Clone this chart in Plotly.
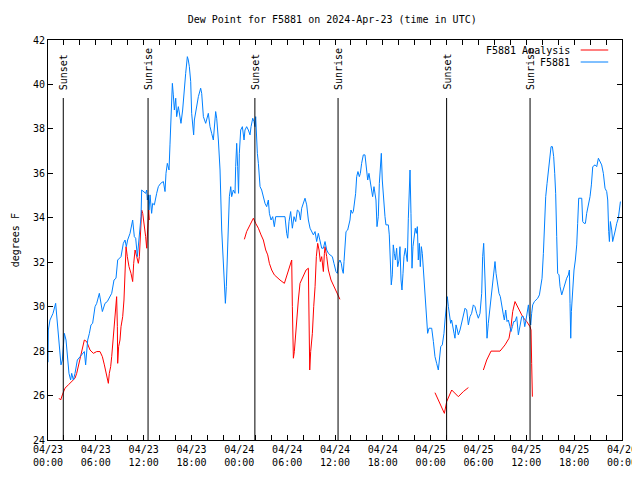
import pandas as pd
import plotly.graph_objects as go

START = "2024-04-23 00:00"
END = "2024-04-26 00:00"

# F5881 observations: hours after START, dew point (deg F)
obs_hours = [
    0.0, 0.04, 0.25, 0.63, 0.96, 1.21, 1.42, 1.63, 1.80, 2.05, 2.26, 2.43, 2.63, 2.84, 2.97, 3.18, 3.39,
    3.68, 4.01, 4.31, 4.56, 4.72, 4.98, 5.19, 5.39, 5.60, 5.90, 6.11, 6.44, 6.82, 7.15, 7.44, 7.99, 8.28,
    8.53, 8.74, 9.16, 9.45, 9.66, 9.83, 9.99, 10.29, 10.5, 10.62, 10.83, 11.0, 11.21, 11.46, 11.67, 11.75,
    12.04, 12.25, 12.38, 12.46, 12.59, 12.67, 12.8, 13.0, 13.13, 13.34, 13.63, 13.84, 14.13, 14.47, 14.68,
    14.80, 14.97, 15.18, 15.3, 15.39, 15.51, 15.6, 15.72, 15.85, 16.02, 16.14, 16.35, 16.56, 16.68, 16.89,
    17.1, 17.27, 17.48, 17.6, 17.73, 17.9, 18.02, 18.15, 18.27, 18.36, 18.65, 18.86, 19.15, 19.28, 19.49,
    19.78, 20.11, 20.32, 20.53, 20.74, 21.03, 21.16, 21.37, 21.58, 21.79, 21.91, 22.08, 22.25, 22.37, 22.50,
    22.62, 22.75, 22.92, 23.04, 23.25, 23.46, 23.54, 23.67, 23.79, 23.9, 24.0, 24.17, 24.38, 24.59, 24.71,
    24.92, 25.13, 25.34, 25.47, 25.68, 25.84, 25.97, 26.05, 26.14, 26.26, 26.39, 26.6, 26.8, 27.01, 27.22,
    27.43, 27.64, 27.77, 27.98, 28.18, 28.39, 28.56, 29.73, 29.94, 30.07, 30.23, 30.44, 30.65, 30.86, 31.07,
    31.28, 31.49, 31.66, 31.82, 32.03, 32.24, 32.45, 32.66, 32.87, 33.08, 33.29, 33.5, 33.7, 33.91, 34.12,
    34.33, 34.54, 34.75, 34.96, 35.17, 35.38, 35.67, 35.87, 36.12, 36.29, 36.42, 36.62, 36.79, 36.92, 37.04,
    37.13, 37.25, 37.38, 37.59, 37.75, 37.88, 38.0, 38.17, 38.3, 38.42, 38.59, 38.72, 38.88, 39.05, 39.18,
    39.34, 39.55, 39.76, 39.97, 40.1, 40.26, 40.39, 40.6, 40.72, 40.89, 41.01, 41.14, 41.27, 41.43, 41.56,
    41.73, 41.81, 41.93, 42.06, 42.27, 42.39, 42.69, 42.81, 42.94, 43.06, 43.19, 43.31, 43.44, 43.57, 43.73,
    43.86, 44.03, 44.15, 44.28, 44.4, 44.53, 44.65, 44.82, 44.95, 45.07, 45.2, 45.32, 45.41, 45.53, 45.66,
    45.78, 45.91, 46.07, 46.2, 46.33, 46.45, 46.58, 46.7, 46.83, 46.95, 47.12, 47.25, 47.37, 47.5, 47.62,
    47.79, 48.13, 48.34, 48.54, 48.75, 48.96, 49.09, 49.26, 49.46, 49.67, 49.8, 49.92, 50.09, 50.22, 50.34,
    50.51, 50.63, 50.8, 50.93, 51.05, 51.18, 51.35, 51.47, 51.68, 51.89, 52.1, 52.31, 52.52, 52.73, 52.93,
    53.14, 53.35, 53.56, 53.77, 53.98, 54.19, 54.4, 54.52, 54.65, 54.82, 54.94, 55.07, 55.23, 55.44, 55.65,
    55.86, 56.07, 56.2, 56.36, 56.57, 56.74, 56.91, 57.12, 57.24, 57.41, 57.58, 57.74, 57.95, 58.08, 58.25,
    58.41, 58.58, 58.79, 59.0, 59.21, 59.42, 59.63, 59.8, 59.96, 60.13, 60.26, 60.38, 60.55, 60.67, 60.8,
    61.01, 61.22, 61.43, 61.64, 61.8, 61.97, 62.14, 62.26, 62.43, 62.6, 62.76, 62.93, 63.1, 63.27, 63.43,
    63.56, 63.68, 63.81, 63.93, 64.1, 64.23, 64.44, 64.56, 64.73, 64.9, 65.06, 65.27, 65.4, 65.48, 65.57,
    65.65, 65.82, 65.98, 66.15, 66.32, 66.44, 66.57, 66.95, 67.07, 67.24, 67.41, 67.57, 67.78, 67.99, 68.16,
    68.33, 68.62, 68.83, 69.04, 69.25, 69.45, 69.66, 69.87, 70.08, 70.21, 70.33, 70.42, 70.54, 70.71, 70.83,
    71.0, 71.17, 71.34, 71.54, 71.67, 71.8,
]
obs_dewpoint = [
    27.5, 28.95, 29.4, 29.7, 30.15, 29.1, 28.05, 27.38, 27.6, 28.8, 28.5, 27.6, 27.0, 26.7, 27.0, 26.7, 27.0,
    27.6, 27.75, 27.9, 27.98, 27.38, 28.5, 28.8, 29.18, 29.25, 30.0, 30.15, 30.6, 29.78, 30.15, 30.23, 30.6, 31.2,
    31.28, 32.1, 32.25, 32.85, 33.0, 32.7, 33.0, 33.3, 33.6, 33.9, 33.15, 33.08, 32.25, 33.15, 34.05, 35.25,
    35.18, 35.1, 35.25, 34.8, 35.03, 34.35, 35.03, 34.2, 34.65, 34.58, 35.1, 35.4, 35.55, 35.63, 35.18,
    36.0, 36.45, 36.15, 37.28, 38.4, 39.53, 40.05, 39.53, 38.85, 39.38, 38.55, 39.0, 38.4, 38.25, 38.85,
    40.05, 40.5, 41.25, 41.1, 40.8, 40.13, 38.7, 37.95, 37.73, 38.4, 39.0, 39.45, 39.83, 39.6, 38.55,
    38.25, 38.7, 38.1, 37.8, 37.5, 38.78, 38.48, 37.5, 36.15, 33.45, 32.55, 31.5, 30.15, 30.9, 32.7,
    34.05, 34.95, 35.4, 34.95, 35.25, 35.1, 36.3, 37.35, 36.3, 35.1, 36.9, 37.95, 38.1, 37.5, 37.95,
    38.1, 37.95, 37.73, 38.1, 38.48, 38.33, 38.1, 38.55, 37.65, 36.9, 36.45, 35.4, 35.25, 34.95, 34.65,
    34.5, 34.8, 34.2, 33.9, 34.05, 33.6, 34.05, 34.05, 33.3, 33.08, 33.83, 34.28, 33.53, 34.05, 33.83,
    34.35, 34.28, 33.9, 34.43, 34.65, 34.88, 34.58, 33.9, 33.53, 33.38, 33.23, 33.38, 32.93, 33.3, 33.0,
    32.63, 32.63, 32.93, 32.55, 32.4, 32.33, 32.25, 31.95, 31.58, 31.5, 31.95, 32.1, 31.95, 31.65, 31.5,
    32.03, 32.85, 33.38, 33.45, 33.68, 33.9, 34.35, 34.2, 34.28, 34.65, 35.1, 35.85, 36.08, 35.85, 36.0,
    36.45, 36.83, 36.83, 36.15, 35.7, 36.0, 35.7, 35.4, 34.95, 35.4, 35.1, 34.8, 33.6, 34.05, 35.55,
    36.45, 36.9, 35.7, 34.95, 34.05, 33.68, 33.68, 33.23, 32.33, 30.98, 31.43, 32.78, 32.4, 32.1, 32.63,
    31.8, 32.1, 32.7, 31.2, 30.75, 31.5, 32.25, 32.63, 32.25, 32.03, 33.98, 35.4, 36.15, 34.2, 31.73,
    32.7, 33.15, 33.53, 33.3, 33.6, 32.1, 32.85, 31.8, 32.7, 32.4, 31.5, 30.6, 30.0, 29.25, 28.8,
    29.03, 29.03, 28.43, 27.75, 27.45, 27.15, 27.6, 28.2, 28.28, 28.8, 29.4, 30.0, 30.45, 30.0, 29.7,
    29.25, 29.4, 28.95, 28.8, 28.58, 29.18, 28.95, 28.73, 28.95, 29.25, 29.55, 29.93, 29.85, 29.18, 29.55,
    29.7, 30.08, 30.0, 29.7, 29.48, 29.7, 30.6, 32.25, 32.85, 31.2, 29.85, 28.58, 29.25, 30.0, 30.6,
    31.2, 32.03, 31.5, 30.98, 30.6, 30.45, 30.0, 29.63, 29.4, 29.85, 29.33, 29.4, 29.1, 28.88, 29.1,
    29.33, 29.33, 29.55, 28.73, 29.25, 29.55, 29.55, 29.1, 29.4, 29.7, 30.08, 29.55, 29.18, 29.7, 30.08,
    30.23, 30.3, 30.38, 30.53, 30.9, 31.28, 32.4, 33.38, 34.95, 35.55, 36.15, 36.83, 37.2, 37.2, 36.75,
    36.0, 35.1, 33.15, 31.5, 31.43, 30.9, 30.53, 30.68, 30.83, 31.05, 31.28, 31.43, 31.65, 30.15, 28.58,
    29.78, 30.9, 31.65, 32.1, 32.78, 33.75, 34.88, 34.88, 33.83, 33.75, 33.75, 34.2, 34.58, 34.95, 35.48,
    36.3, 36.38, 36.3, 36.68, 36.53, 36.38, 36.0, 35.33, 35.18, 34.8, 33.38, 32.93, 33.83, 33.45, 32.93,
    33.15, 33.45, 33.75, 33.98, 34.35, 34.73,
]

# F5881 Analysis: hours after START, dew point (deg F); None marks a gap
ana_hours = [
    1.38, 1.59, 1.8, 2.13, 2.55, 2.97, 3.39, 3.6, 3.81, 4.01, 4.22, 4.56, 4.85, 5.06, 5.27, 5.69, 6.11,
    6.52, 6.82, 7.07, 7.28, 7.44, 7.57, 7.69, 7.86, 7.99, 8.2, 8.41, 8.53, 8.61, 8.7, 8.74, 8.86, 9.03,
    9.16, 9.37, 9.53, 9.66, 9.79, 9.95, 10.16, 10.41, 10.62, 10.75, 10.92, 11.13, 11.33, 11.46, 11.58,
    11.75, 11.88, 12.04, 12.17, 12.25, 12.38, 12.5, 12.63, 12.71,
    12.8,
    24.63, 24.92, 25.34, 25.76, 26.05, 26.39, 26.72, 27.01, 27.31, 27.56, 27.77, 28.06, 28.39, 28.69,
    29.1, 29.65, 29.94, 30.23, 30.57, 30.65, 30.78, 30.9, 31.07, 31.24, 31.4, 31.61, 32.03, 32.37, 32.66,
    32.74, 32.83, 32.95, 33.16, 33.33, 33.5, 33.66, 33.83, 34.0, 34.16, 34.33, 34.54, 34.67, 34.75, 34.96,
    35.17, 35.5, 35.8, 36.0, 36.2, 36.4, 36.62,
    36.7,
    48.54, 49.17, 49.72, 50.01, 50.64, 51.47, 52.1, 52.73,
    52.8,
    54.61, 55.03, 55.57, 56.7, 57.33, 57.83, 58.08, 58.29, 58.58, 59.0, 59.42, 59.75, 60.05, 60.46, 60.59,
    60.67, 60.76,
]
ana_dewpoint = [
    25.88, 25.8, 26.03, 26.33, 26.48, 26.63, 26.78, 27.0, 27.3, 27.6, 27.98, 28.5, 28.43, 28.2, 28.05, 27.9, 27.98,
    27.98, 27.75, 27.38, 27.0, 26.78, 26.55, 27.0, 27.3, 27.75, 28.8, 29.4, 30.15, 30.45, 29.1, 27.45, 28.2, 28.5,
    29.1, 29.55, 30.3, 31.8, 32.7, 32.25, 31.8, 31.5, 31.13, 31.95, 32.55, 32.25, 31.95, 32.25, 33.15,
    34.35, 34.2, 33.83, 33.38, 33.15, 32.63, 33.53, 34.35, 33.9,
    None,
    33.03, 33.38, 33.68, 33.98, 33.75, 33.53, 33.23, 33.0, 32.55, 32.33, 31.95, 31.65, 31.43, 31.35,
    31.2, 31.05, 31.35, 31.73, 32.1, 30.0, 27.68, 27.98, 28.88, 29.4, 30.3, 31.05, 31.43, 31.65, 31.73,
    29.25, 27.15, 27.98, 28.8, 30.0, 30.9, 32.25, 32.85, 32.55, 32.03, 32.25, 31.58, 32.4, 32.7, 32.25,
    31.65, 31.2, 30.95, 30.78, 30.6, 30.45, 30.33,
    None,
    26.13, 25.65, 25.2, 25.73, 26.25, 25.95, 26.18, 26.36,
    None,
    27.15, 27.6, 28.0, 28.0, 28.28, 28.58, 29.1, 29.78, 30.23, 29.9, 29.63, 29.45, 29.33, 29.1, 28.95,
    27.45, 25.95,
]

sun_events = ["Sunset", "Sunrise", "Sunset", "Sunrise", "Sunset", "Sunrise"]
sun_times = ["2024-04-23 01:55", "2024-04-23 12:33", "2024-04-24 01:57",
             "2024-04-24 12:23", "2024-04-25 02:00", "2024-04-25 12:28"]

series_names = ["F5881 Analysis", "F5881"]
series_colors = ["#ff0000", "#0080ff"]

start = pd.Timestamp(START)
obs_t = [start + pd.Timedelta(hours=h) for h in obs_hours]
ana_t = [start + pd.Timedelta(hours=h) for h in ana_hours]

FONT = "DejaVu Sans Mono"
fig = go.Figure()
fig.add_trace(go.Scatter(x=ana_t, y=ana_dewpoint, mode="lines", name=series_names[0],
                         line=dict(color=series_colors[0], width=1), connectgaps=False,
                         showlegend=False))
fig.add_trace(go.Scatter(x=obs_t, y=obs_dewpoint, mode="lines", name=series_names[1],
                         line=dict(color=series_colors[1], width=1), showlegend=False))

# sunrise / sunset markers
for name, t in zip(sun_events, sun_times):
    fig.add_shape(type="line", xref="x", yref="paper", x0=t, x1=t, y0=0, y1=0.855,
                  line=dict(color="black", width=1))
    fig.add_annotation(x=t, xref="x", y=0.87, yref="paper", text=name, textangle=-90,
                       showarrow=False, xanchor="center", yanchor="bottom",
                       font=dict(family=FONT, size=10, color="black"))

# legend (text then line sample, gnuplot style)
for i, (name, col) in enumerate(zip(series_names, series_colors)):
    yp = 0.975 - i * 0.03
    fig.add_annotation(x=0.913, xref="paper", y=yp, yref="paper", text=name,
                       showarrow=False, xanchor="right", yanchor="middle",
                       font=dict(family=FONT, size=10, color="black"))
    fig.add_shape(type="line", xref="paper", yref="paper", x0=0.928, x1=0.976, y0=yp, y1=yp,
                  line=dict(color=col, width=1))

fig.add_annotation(x=-0.057, xref="paper", y=0.5, yref="paper", text="degrees F",
                   textangle=-90, showarrow=False, xanchor="center", yanchor="middle",
                   font=dict(family=FONT, size=10, color="black"))

# the page body adds an 8px offset on the left and top; the figure is sized so the
# plot area lands where the reference has it (x 48-622, y 40-440) without page overflow
fig.update_layout(
    width=632, height=464,
    margin=dict(l=40, r=18, t=32, b=32, autoexpand=False),
    paper_bgcolor="white", plot_bgcolor="white",
    font=dict(family=FONT, size=10, color="black"),
    title=dict(text="Dew Point for F5881 on 2024-Apr-23 (time in UTC)", x=0.513, xanchor="center",
               y=0.976, yanchor="middle", font=dict(family=FONT, size=10, color="black")),
    showlegend=False,
)
fig.update_xaxes(
    type="date", range=[START, END], tickformat="%m/%d<br>%H:%M", automargin=False,
    ticklabeloverflow="allow",
    tick0=START, dtick=6 * 3600 * 1000, ticks="inside", ticklen=5, tickcolor="black",
    minor=dict(dtick=2 * 3600 * 1000, ticks="inside", ticklen=5, tickcolor="black"),
    showline=True, linecolor="black", linewidth=1, mirror="ticks", showgrid=False, zeroline=False,
    tickfont=dict(family=FONT, size=10, color="black"),
)
fig.update_yaxes(
    range=[24, 42], tick0=24, dtick=2, ticks="inside", ticklen=5, tickcolor="black", automargin=False,
    showline=True, linecolor="black", linewidth=1, mirror="ticks", showgrid=False, zeroline=False,
    tickfont=dict(family=FONT, size=10, color="black"),
)

fig.write_html("out.html")
